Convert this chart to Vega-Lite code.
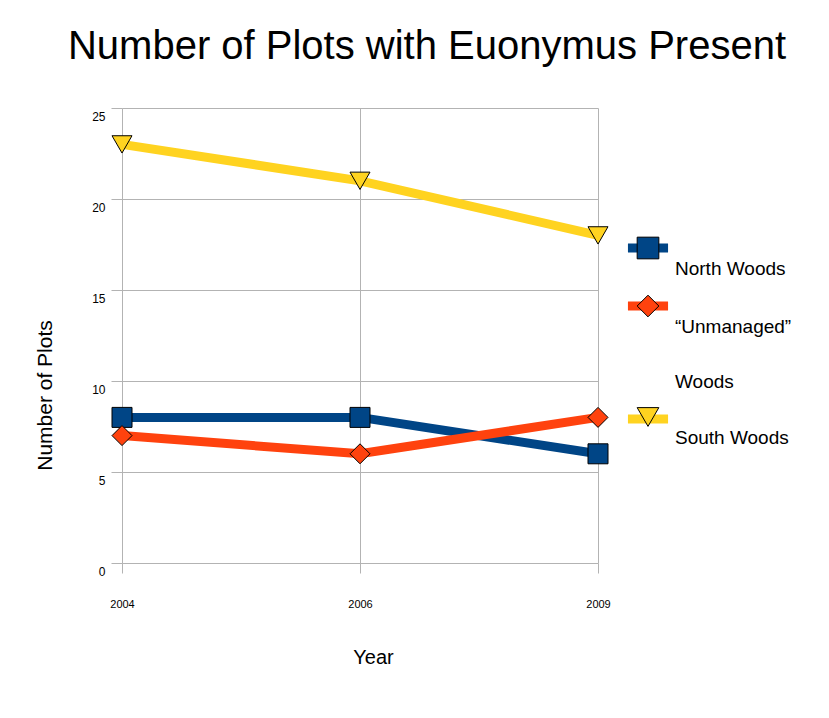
{
  "$schema": "https://vega.github.io/schema/vega-lite/v6.json",
  "width": 476,
  "height": 455,
  "autosize": {"type": "none"},
  "padding": {"left": 122, "top": 108, "right": 231, "bottom": 155},
  "background": "white",
  "config": {"font": "Liberation Sans", "view": {"stroke": null}},
  "title": {"text": "Number of Plots with Euonymus Present", "fontSize": 40, "fontWeight": "normal", "font": "Liberation Sans", "color": "black", "anchor": "middle", "frame": "group", "dx": 67, "offset": 9, "baseline": "alphabetic"},
  "data": {"values": [
    {"series": "North Woods", "year": "2004", "plots": 8},
    {"series": "North Woods", "year": "2006", "plots": 8},
    {"series": "North Woods", "year": "2009", "plots": 6},
    {"series": "“Unmanaged” Woods", "year": "2004", "plots": 7},
    {"series": "“Unmanaged” Woods", "year": "2006", "plots": 6},
    {"series": "“Unmanaged” Woods", "year": "2009", "plots": 8},
    {"series": "South Woods", "year": "2004", "plots": 23},
    {"series": "South Woods", "year": "2006", "plots": 21},
    {"series": "South Woods", "year": "2009", "plots": 18}
  ]},
  "encoding": {
    "x": {"field": "year", "type": "ordinal", "sort": ["2004", "2006", "2009"], "scale": {"type": "point", "padding": 0},
      "axis": {"title": "Year", "titleFontSize": 20, "titleFontWeight": "normal", "titleColor": "black", "titleX": 251, "titleY": 94, "titleBaseline": "middle", "titleAlign": "center", "labelAngle": 0, "grid": true, "gridColor": "#b3b3b3", "domain": false, "tickColor": "#b3b3b3", "tickSize": 10, "labelFontSize": 11, "labelPadding": 25, "labelColor": "black"}},
    "y": {"field": "plots", "type": "quantitative", "scale": {"domain": [0, 25], "nice": false},
      "axis": {"title": "Number of Plots", "titleFontSize": 21, "titleFontWeight": "normal", "titleColor": "black", "titleX": -77, "titleY": 287, "titleAngle": -90, "titleBaseline": "middle", "titleAlign": "center", "values": [0, 5, 10, 15, 20, 25], "grid": true, "gridColor": "#b3b3b3", "domain": false, "tickColor": "#b3b3b3", "tickSize": 11, "labelFontSize": 12, "labelColor": "black", "labelPadding": 6, "labelOffset": 8}}
  },
  "layer": [
    {"mark": {"type": "line", "strokeWidth": 9},
     "encoding": {"color": {"field": "series", "type": "nominal", "sort": ["North Woods", "“Unmanaged” Woods", "South Woods"], "scale": {"range": ["#004586", "#ff420e", "#ffd320"]}, "legend": null}}},
    {"mark": {"type": "point", "filled": true, "shape": "M-1.85,-0.42H1.85V0.42H-1.85Z M0,-1V1", "size": 470, "opacity": 0},
     "encoding": {"color": {"field": "series", "type": "nominal", "sort": ["North Woods", "“Unmanaged” Woods", "South Woods"],
       "legend": {"title": "a", "titleFontSize": 1, "titlePadding": 0, "titleOpacity": 0, "orient": "none", "legendX": 514.5, "legendY": 127.5, "padding": 0, "symbolType": "M-1.85,-0.42H1.85V0.42H-1.85Z M0,-1V1", "symbolSize": 470, "symbolOpacity": 1, "symbolStrokeColor": "transparent", "symbolStrokeWidth": 1, "labelOpacity": 0, "labelFontSize": 19, "labelLimit": 300, "labelOffset": 15.5, "rowPadding": 13,
         "labelExpr": "datum.label == '“Unmanaged” Woods' ? ['“Unmanaged”', 'Woods'] : datum.label",
         "encode": {"labels": {"update": {"lineHeight": {"value": 55}, "dy": {"value": 21}}}}}}}},
    {"mark": {"type": "point", "filled": true, "size": 400, "opacity": 1, "stroke": "black", "strokeWidth": 1},
     "encoding": {
       "shape": {"field": "series", "type": "nominal", "scale": {"domain": ["North Woods", "“Unmanaged” Woods", "South Woods"], "range": ["square", "diamond", "triangle-down"]}, "legend": null},
       "color": {"field": "series", "type": "nominal", "sort": ["North Woods", "“Unmanaged” Woods", "South Woods"],
         "legend": {"title": null, "orient": "none", "legendX": 514.5, "legendY": 128.5, "padding": 0, "symbolSize": 470, "symbolOpacity": 1, "symbolStrokeColor": "black", "symbolStrokeWidth": 1, "labelColor": "black", "labelFontSize": 19, "labelLimit": 300, "labelOffset": 15.5, "rowPadding": 13,
           "labelExpr": "datum.label == '“Unmanaged” Woods' ? ['“Unmanaged”', 'Woods'] : datum.label",
           "encode": {"symbols": {"update": {"shape": {"scale": "shape", "field": "value"}, "stroke": {"value": "black"}, "strokeWidth": {"value": 1}}}, "labels": {"update": {"lineHeight": {"value": 55}, "dy": {"value": 21}}}}}}
     }}
  ],
  "resolve": {"legend": {"color": "independent", "shape": "independent"}}
}
